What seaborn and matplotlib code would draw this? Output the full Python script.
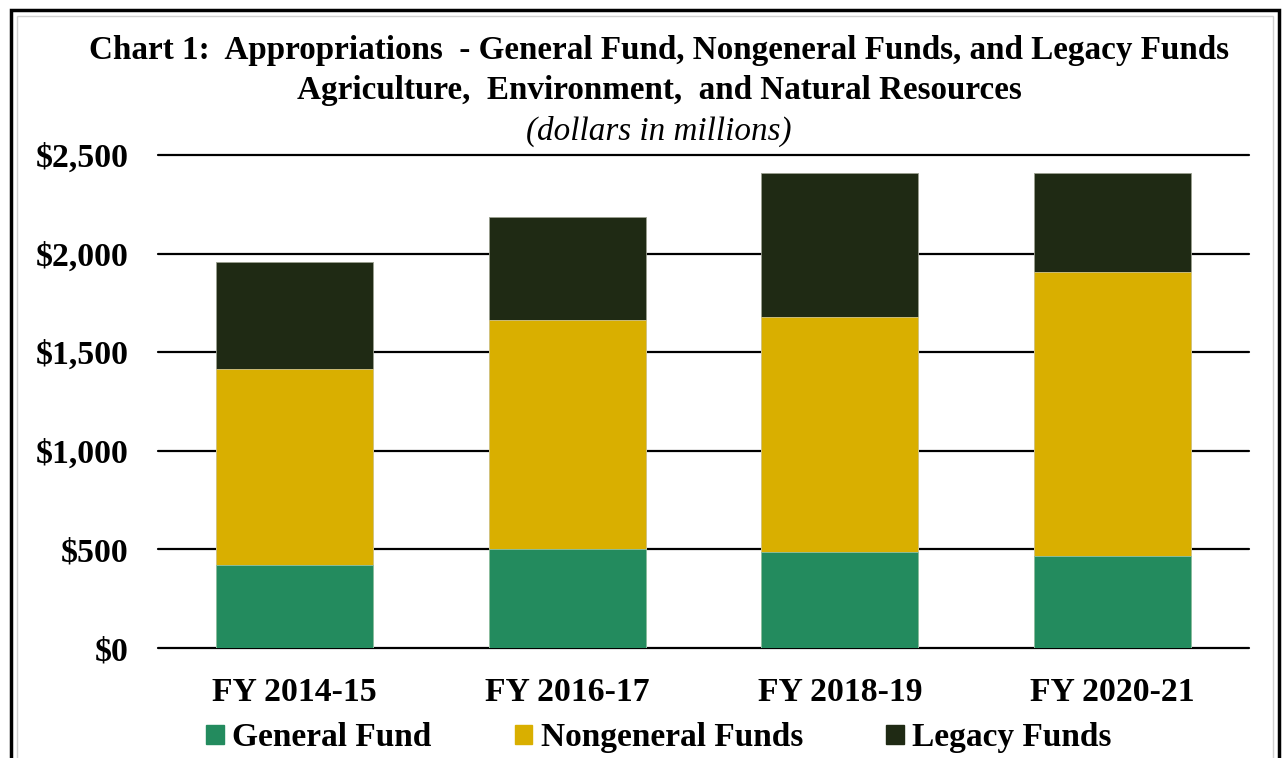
#appropriations chart - stacked bars by fund type

import pandas as pd
import matplotlib.pyplot as plt
import seaborn as sns
from matplotlib.patches import Patch, Rectangle
from matplotlib.ticker import FuncFormatter

years=['FY 2014-15','FY 2016-17','FY 2018-19','FY 2020-21']
general=[421,502,487,467]
nongeneral=[994,1161,1191,1440]
legacy=[542,523,729,500]
yticks=[0,500,1000,1500,2000,2500]

c_gen='#238B5E'
c_non='#D9AF00'
c_leg='#1F2A14'

def main():
    df=pd.DataFrame({'year':years,'general':general,'nongeneral':nongeneral,'legacy':legacy})
    df['mid']=df.general+df.nongeneral
    df['total']=df.mid+df.legacy

    sns.set_style('white')
    plt.rcParams['font.family']=['Liberation Serif','DejaVu Serif']
    plt.rcParams['font.weight']='bold'
    plt.rcParams['text.color']='black'
    plt.rcParams['xtick.color']='black'
    plt.rcParams['ytick.color']='black'

    fig=plt.figure(figsize=(12.83,7.58),dpi=100)
    ax=fig.add_axes([0.1231,0.1451,0.8504,0.6504])

    w=0.575
    sns.barplot(data=df,x='year',y='total',color=c_leg,width=w,saturation=1,ax=ax,
                edgecolor='#9a9f90',linewidth=0.6,zorder=3)
    sns.barplot(data=df,x='year',y='mid',color=c_non,width=w,saturation=1,ax=ax,
                edgecolor='#d8c98a',linewidth=0.6,zorder=3)
    sns.barplot(data=df,x='year',y='general',color=c_gen,width=w,saturation=1,ax=ax,
                edgecolor='#8fc2a8',linewidth=0.6,zorder=3)

    ax.set_ylim(0,2500)
    ax.set_xlim(-0.5,3.5)
    ax.set_yticks(yticks)
    ax.yaxis.set_major_formatter(FuncFormatter(lambda v,p:'${:,.0f}'.format(v)))
    ax.set_xlabel('')
    ax.set_ylabel('')
    ax.grid(axis='y',color='black',linewidth=1.6,zorder=0)
    for gl in ax.get_ygridlines():
        gl.set_clip_on(False)
    ax.set_axisbelow(True)
    for s in ['left','right','top','bottom']:
        ax.spines[s].set_visible(False)
    ax.tick_params(axis='y',length=0,pad=21,labelsize=24.3,labelcolor='black')
    ax.tick_params(axis='x',length=0,pad=21,labelsize=24.3,labelcolor='black')
    for t in ax.get_xticklabels()+ax.get_yticklabels():
        t.set_fontweight('bold')

    fig.text(0.5136,0.933,'Chart 1:  Appropriations  - General Fund, Nongeneral Funds, and Legacy Funds',
             ha='center',va='center',fontsize=23.9,fontweight='bold',color='black')
    fig.text(0.5136,0.880,'Agriculture,  Environment,  and Natural Resources',
             ha='center',va='center',fontsize=23.9,fontweight='bold',color='black')
    fig.text(0.5136,0.827,'(dollars in millions)',ha='center',va='center',
             fontsize=23.9,fontstyle='italic',fontweight='normal',color='black')

    handles=[Patch(color=c_gen,label='General Fund'),
             Patch(color=c_non,label='Nongeneral Funds'),
             Patch(color=c_leg,label='Legacy Funds')]
    leg=fig.legend(handles=handles,loc='center',bbox_to_anchor=(0.5136,0.027),ncol=3,frameon=False,
                   prop={'size':24,'weight':'bold'},handlelength=0.52,handleheight=0.52,
                   handletextpad=0.25,columnspacing=2.5,borderpad=0)
    for t in leg.get_texts():
        t.set_color('black')

    # outer frame
    fig.patches.append(Rectangle((11/1283,-0.05),1268/1283,1.05-10/758,transform=fig.transFigure,
                                 fill=False,edgecolor='black',linewidth=2.5))
    fig.patches.append(Rectangle((17/1283,-0.05),1256/1283,1.05-16/758,transform=fig.transFigure,
                                 fill=False,edgecolor='#d0d0d0',linewidth=1))

    plt.savefig('out.png',dpi=100)

if __name__ == '__main__':
    main()
